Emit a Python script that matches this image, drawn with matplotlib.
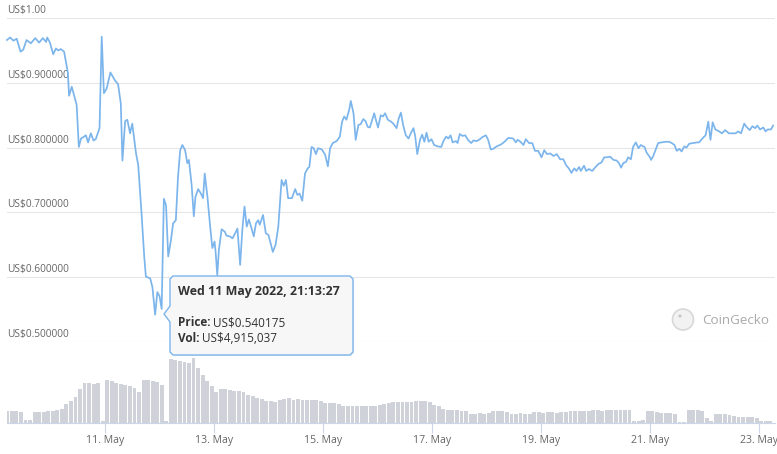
import numpy as np
import matplotlib
matplotlib.use("Agg")
import matplotlib.pyplot as plt
from matplotlib.patches import Polygon, Ellipse

plt.rcParams['font.family'] = ['Open Sans', 'DejaVu Sans']

# ---------------- data (x = day of May 2022) ----------------
price_days = [
    9.20, 9.26, 9.32, 9.38, 9.45, 9.50, 9.56, 9.64, 9.72, 9.79, 9.86, 9.92, 9.94, 9.99,
    10.05, 10.10, 10.14, 10.19, 10.25, 10.32, 10.34, 10.39, 10.48, 10.52, 10.56, 10.60,
    10.65, 10.69, 10.74, 10.79, 10.83, 10.90, 10.94, 10.98, 11.03, 11.10, 11.18, 11.24,
    11.29, 11.32, 11.37, 11.41, 11.46, 11.50, 11.57, 11.61, 11.67, 11.72, 11.75, 11.83,
    11.87, 11.92, 11.96, 12.00, 12.04, 12.08, 12.12, 12.16, 12.21, 12.25, 12.30, 12.34,
    12.38, 12.42, 12.47, 12.51, 12.54, 12.59, 12.63, 12.66, 12.71, 12.76, 12.80, 12.83,
    12.88, 12.93, 12.97, 13.01, 13.03, 13.06, 13.09, 13.14, 13.20, 13.23, 13.29, 13.34,
    13.39, 13.43, 13.48, 13.52, 13.56, 13.60, 13.64, 13.68, 13.73, 13.77, 13.81, 13.84,
    13.90, 13.95, 14.00, 14.04, 14.08, 14.13, 14.18, 14.24, 14.28, 14.32, 14.36, 14.43,
    14.49, 14.53, 14.57, 14.62, 14.67, 14.72, 14.75, 14.79, 14.83, 14.87, 14.91, 14.98,
    15.04, 15.09, 15.13, 15.18, 15.25, 15.31, 15.35, 15.39, 15.43, 15.48, 15.51, 15.56,
    15.60, 15.65, 15.69, 15.74, 15.78, 15.82, 15.86, 15.94, 15.97, 16.01, 16.06, 16.10,
    16.14, 16.19, 16.25, 16.29, 16.35, 16.39, 16.43, 16.47, 16.52, 16.57, 16.61, 16.66,
    16.69, 16.73, 16.78, 16.82, 16.86, 16.90, 16.94, 16.99, 17.04, 17.10, 17.17, 17.21,
    17.26, 17.30, 17.34, 17.38, 17.44, 17.47, 17.51, 17.56, 17.61, 17.66, 17.72, 17.76,
    17.82, 17.88, 17.92, 17.99, 18.03, 18.08, 18.12, 18.19, 18.27, 18.33, 18.40, 18.49,
    18.54, 18.57, 18.61, 18.68, 18.72, 18.78, 18.84, 18.89, 18.95, 19.01, 19.06, 19.11,
    19.17, 19.23, 19.29, 19.35, 19.41, 19.46, 19.51, 19.56, 19.61, 19.65, 19.70, 19.73,
    19.79, 19.83, 19.88, 19.94, 20.00, 20.06, 20.11, 20.16, 20.21, 20.27, 20.33, 20.39,
    20.43, 20.47, 20.51, 20.56, 20.60, 20.65, 20.69, 20.74, 20.79, 20.83, 20.90, 20.94,
    21.00, 21.02, 21.06, 21.10, 21.15, 21.21, 21.29, 21.35, 21.40, 21.45, 21.49, 21.54,
    21.58, 21.63, 21.67, 21.72, 21.79, 21.86, 21.90, 21.96, 22.02, 22.07, 22.11, 22.15,
    22.20, 22.27, 22.32, 22.38, 22.45, 22.51, 22.57, 22.62, 22.67, 22.73, 22.77, 22.83,
    22.88, 22.93, 22.97, 23.02, 23.08, 23.12, 23.16, 23.22, 23.26,
]
price_values = [
    0.966, 0.970, 0.965, 0.968, 0.948, 0.951, 0.966, 0.961, 0.969, 0.962, 0.969, 0.963, 0.970, 0.962,
    0.944, 0.953, 0.950, 0.952, 0.948, 0.915, 0.880, 0.894, 0.866, 0.801, 0.814, 0.816,
    0.819, 0.808, 0.822, 0.811, 0.813, 0.830, 0.971, 0.884, 0.891, 0.916, 0.904, 0.898,
    0.868, 0.780, 0.841, 0.843, 0.822, 0.837, 0.791, 0.773, 0.699, 0.632, 0.601, 0.598,
    0.585, 0.542, 0.577, 0.571, 0.551, 0.721, 0.711, 0.632, 0.657, 0.683, 0.688, 0.755,
    0.796, 0.804, 0.796, 0.776, 0.781, 0.742, 0.694, 0.724, 0.736, 0.729, 0.722, 0.760,
    0.724, 0.678, 0.645, 0.655, 0.639, 0.603, 0.642, 0.674, 0.670, 0.664, 0.663, 0.660,
    0.668, 0.675, 0.619, 0.673, 0.709, 0.678, 0.689, 0.678, 0.663, 0.683, 0.688, 0.681,
    0.696, 0.668, 0.665, 0.652, 0.639, 0.650, 0.678, 0.750, 0.741, 0.750, 0.722, 0.722,
    0.736, 0.727, 0.729, 0.718, 0.760, 0.768, 0.770, 0.801, 0.799, 0.790, 0.799, 0.797,
    0.789, 0.771, 0.799, 0.807, 0.810, 0.817, 0.840, 0.848, 0.843, 0.858, 0.872, 0.853,
    0.812, 0.835, 0.836, 0.844, 0.841, 0.832, 0.831, 0.853, 0.843, 0.831, 0.850, 0.848,
    0.853, 0.843, 0.840, 0.837, 0.830, 0.845, 0.854, 0.835, 0.819, 0.814, 0.822, 0.830,
    0.819, 0.790, 0.812, 0.820, 0.809, 0.823, 0.809, 0.813, 0.804, 0.802, 0.801, 0.810,
    0.817, 0.814, 0.819, 0.808, 0.810, 0.807, 0.821, 0.818, 0.819, 0.812, 0.807, 0.811,
    0.810, 0.813, 0.816, 0.819, 0.812, 0.797, 0.798, 0.802, 0.805, 0.809, 0.815, 0.814,
    0.808, 0.812, 0.810, 0.804, 0.813, 0.807, 0.807, 0.795, 0.795, 0.785, 0.796, 0.790,
    0.791, 0.787, 0.790, 0.782, 0.782, 0.773, 0.768, 0.761, 0.768, 0.764, 0.770, 0.764,
    0.772, 0.764, 0.767, 0.764, 0.770, 0.775, 0.777, 0.785, 0.785, 0.786, 0.781, 0.780,
    0.776, 0.769, 0.776, 0.778, 0.785, 0.782, 0.801, 0.808, 0.799, 0.804, 0.801, 0.792,
    0.785, 0.781, 0.787, 0.796, 0.807, 0.808, 0.809, 0.809, 0.807, 0.804, 0.795, 0.798,
    0.794, 0.802, 0.800, 0.806, 0.807, 0.808, 0.808, 0.814, 0.819, 0.840, 0.812, 0.839,
    0.828, 0.825, 0.822, 0.827, 0.822, 0.822, 0.822, 0.825, 0.822, 0.837, 0.832, 0.827,
    0.833, 0.830, 0.834, 0.828, 0.831, 0.825, 0.828, 0.828, 0.834,
]

# volume (US$ millions), one value per 2 hours starting 9 May 05:00
vol_start_day = 9 + 5 / 24
vol_step_days = 2 / 24
volume_musd = [
    1.31, 1.31, 1.31, 1.25, 0.30, 0.30, 1.20, 1.20, 1.20, 1.31, 1.31, 1.49, 1.60, 2.10,
    2.43, 2.91, 3.81, 4.48, 4.45, 4.40, 4.48, 0.19, 4.82, 4.75, 4.48, 4.40, 4.30, 4.10,
    3.92, 3.47, 4.80, 4.82, 4.75, 4.59, 4.26, 0.19, 7.17, 7.10, 7.00, 6.83, 6.70, 7.28,
    6.16, 5.38, 4.70, 4.20, 3.47, 3.81, 3.81, 3.70, 3.58, 3.58, 3.50, 3.14, 3.00, 2.80,
    2.70, 2.46, 2.46, 2.40, 2.55, 2.69, 2.75, 2.60, 2.69, 2.58, 2.60, 2.58, 2.55, 2.50,
    2.24, 2.24, 2.20, 2.15, 1.90, 1.90, 1.95, 1.90, 1.85, 1.90, 1.85, 1.90, 2.00, 2.10,
    2.20, 2.30, 2.35, 2.35, 2.35, 2.30, 2.46, 2.46, 2.46, 2.40, 2.00, 1.90, 1.60, 1.46,
    1.46, 1.46, 1.40, 1.30, 1.04, 1.04, 1.10, 1.04, 1.10, 1.38, 1.38, 1.38, 1.25, 1.04,
    1.04, 1.10, 1.04, 1.04, 1.20, 1.20, 1.15, 1.20, 1.20, 1.15, 1.20, 1.25, 1.31, 1.31,
    1.31, 1.35, 1.31, 1.42, 1.42, 1.38, 1.42, 1.42, 1.42, 1.42, 1.42, 1.42, 0.26, 0.26,
    0.30, 1.31, 1.31, 1.25, 1.12, 1.12, 1.10, 1.05, 0.15, 0.15, 1.42, 1.42, 1.42, 1.40,
    0.56, 0.20, 1.04, 1.04, 1.00, 0.95, 0.80, 0.67, 0.70, 0.67, 0.67, 0.60, 0.19, 0.19,
    0.19,
]

price_ticks = [0.5, 0.6, 0.7, 0.8, 0.9, 1.0]
price_tick_labels = ["US$0.500000", "US$0.600000", "US$0.700000",
                     "US$0.800000", "US$0.900000", "US$1.00"]
date_ticks = [11, 13, 15, 17, 19, 21, 23]
date_tick_labels = ["11. May", "13. May", "15. May", "17. May", "19. May", "21. May", "23. May"]

tooltip_title = "Wed 11 May 2022, 21:13:27"
tooltip_rows = [("Price:", "US$0.540175"), ("Vol:", "US$4,915,037")]
watermark = "CoinGecko"

# ---------------- figure ----------------
W, H = 777, 454
fig = plt.figure(figsize=(W / 100, H / 100), dpi=100)
fig.patch.set_facecolor("white")

def fx(x):
    return x / W

def fy(y):
    return 1 - y / H

XMIN, XMAX = 9.202, 23.294
L, R = 7, 775

# price pane
ax = fig.add_axes([fx(L), fy(342), (R - L) / W, (342 - 18) / H])
ax.set_xlim(XMIN, XMAX)
ax.set_ylim(0.5, 1.0)
ax.axis("off")
for v, lab in zip(price_ticks, price_tick_labels):
    ax.axhline(v, color="#e6e6e6", lw=0.8, zorder=1)
    ax.annotate(lab, xy=(0, v), xycoords=ax.get_yaxis_transform(),
                xytext=(0, 1.5), textcoords="offset points",
                ha="left", va="bottom", fontsize=7.3, color="#666666")
ax.plot(price_days, price_values, color="#7cb5ec", lw=1.25, zorder=3,
        solid_joinstyle="round", clip_on=False)

# volume pane
axv = fig.add_axes([fx(L), fy(423), (R - L) / W, (423 - 353) / H])
days_v = vol_start_day + np.arange(len(volume_musd)) * vol_step_days
axv.bar(days_v, volume_musd, width=vol_step_days * 0.85, color="#cfd2d8",
        linewidth=0, zorder=2)
axv.set_xlim(XMIN, XMAX)
axv.set_ylim(0, 7.84)
for s in ["top", "left", "right"]:
    axv.spines[s].set_visible(False)
axv.spines["bottom"].set_color("#ccd6eb")
axv.spines["bottom"].set_linewidth(0.8)
axv.set_yticks([])
axv.set_xticks(date_ticks)
axv.set_xticklabels(date_tick_labels)
axv.tick_params(axis="x", length=7, width=0.8, color="#ccd6eb",
                labelcolor="#666666", labelsize=7.6, pad=2)
axv.patch.set_alpha(0)

# tooltip
shape = [(173, 276), (350, 276), (353, 279), (353, 352), (350, 355), (173, 355),
         (170, 352), (170, 322), (164, 314), (170, 306), (170, 279)]
shadow = Polygon([(fx(x + 1), fy(y + 1)) for x, y in shape], closed=True,
                 transform=fig.transFigure, facecolor="#000000", alpha=0.08,
                 edgecolor="none", zorder=9)
fig.add_artist(shadow)
box = Polygon([(fx(x), fy(y)) for x, y in shape], closed=True,
              transform=fig.transFigure, facecolor="#f7f7f7",
              edgecolor="#7cb5ec", lw=1.0, zorder=10)
fig.add_artist(box)
fig.text(fx(178), fy(291), tooltip_title, fontsize=8.9, fontweight="bold",
         color="#333333", va="center", ha="left", zorder=11)
renderer = fig.canvas.get_renderer()
for (k, v), yy in zip(tooltip_rows, [323, 339]):
    t = fig.text(fx(178), fy(yy), k, fontsize=8.5, fontweight="bold",
                 color="#333333", va="center", ha="left", zorder=11)
    bb = t.get_window_extent(renderer=renderer)
    fig.text(fx(178) + (bb.width + 3) / W, fy(yy), v, fontsize=8.5,
             color="#333333", va="center", ha="left", zorder=11)

# watermark
fig.add_artist(Ellipse((fx(683), fy(319.5)), 21 / W, 21 / H, transform=fig.transFigure,
                       facecolor="#f2f2f2", edgecolor="#d8d8d8", lw=1.2, zorder=5))
fig.add_artist(Ellipse((fx(680), fy(316)), 3.2 / W, 3.2 / H, transform=fig.transFigure,
                       facecolor="#c8c8c8", edgecolor="none", zorder=6))
fig.text(fx(702), fy(321), watermark, fontsize=9.6, color="#aaaaaa",
         va="center", ha="left", zorder=6)

fig.savefig("out.png", dpi=100, facecolor="white")
